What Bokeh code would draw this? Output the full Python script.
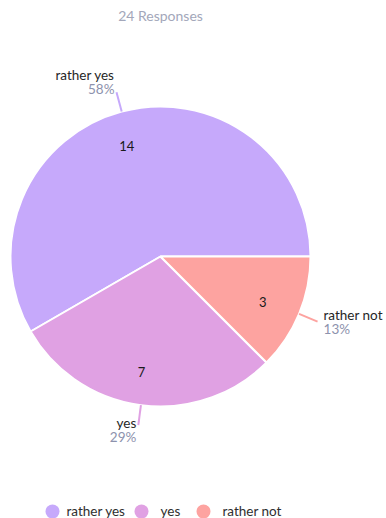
import math
from bokeh.plotting import figure
from bokeh.models import Range1d
from bokeh.core.properties import value
from bokeh.embed import file_html
from bokeh.resources import INLINE

# ---- data ----
categories = ["rather yes", "yes", "rather not"]
counts = [14, 7, 3]
colors = ["#c6a9fb", "#e0a1e3", "#fda3a0"]
title_text = "24 Responses"

# ---- layout ----
W, H = 386, 518
CX, CY = 160, 256          # canvas coords (from top)
R = 150
FONT = "Lato"

p = figure(width=W, height=H, output_backend="svg", toolbar_location=None,
           x_range=Range1d(0, W), y_range=Range1d(0, H), min_border=0)
p.axis.visible = False
p.grid.visible = False
p.outline_line_color = None
p.background_fill_color = "white"
p.border_fill_color = "white"

def Y(cy):
    return H - cy

total = sum(counts)
starts, ends = [], []
acc = 0
for c in counts:
    starts.append(acc / total * 2 * math.pi)
    acc += c
    ends.append(acc / total * 2 * math.pi)

p.wedge(x=[CX] * 3, y=[Y(CY)] * 3, radius=R, start_angle=starts, end_angle=ends,
        direction="anticlock", fill_color=colors, line_color="white", line_width=2)

# title
p.text(x=[160], y=[Y(15)], text=[title_text], text_font=value(FONT),
       text_font_size="14px", text_color="#a3a7ba", text_align="center",
       text_baseline="middle")

for cat, c, col, s, e in zip(categories, counts, colors, starts, ends):
    mid = (s + e) / 2
    ca, sa = math.cos(mid), math.sin(mid)
    # value label inside
    vx, vy = CX + 115 * ca, CY - 115 * sa
    p.text(x=[vx - 4], y=[Y(vy + 1)], text=[str(c)], text_font=value(FONT),
           text_font_size="13px", text_color="#1a1a1a", text_align="center",
           text_baseline="middle")
    # leader line
    x1, y1 = CX + R * ca, CY - R * sa
    x2, y2 = CX + (R + 20) * ca, CY - (R + 20) * sa
    p.line(x=[x1, x2], y=[Y(y1), Y(y2)], line_color=col, line_width=2)
    pct = math.floor(c / total * 100 + 0.5)
    if ca >= 0:
        tx, align = x2 + 6, "left"
    else:
        tx, align = x2 - 2, "right"
    block = y2 - 8 * sa
    p.text(x=[tx], y=[Y(block - 9.5)], text=[cat], text_font=value(FONT),
           text_font_size="13.5px", text_color="#262626", text_align=align,
           text_baseline="middle")
    p.text(x=[tx], y=[Y(block + 4.5)], text=[f"{pct}%"], text_font=value(FONT),
           text_font_size="13.5px", text_color="#8d92ad", text_align=align,
           text_baseline="middle")

# legend
leg_circle_x = [52, 141, 203]
leg_text_x = [66, 160, 222]
leg_y = 511
p.scatter(x=leg_circle_x, y=[Y(leg_y)] * 3, size=14, marker="circle",
          fill_color=colors, line_color=None)
p.text(x=leg_text_x, y=[Y(leg_y - 1)] * 3, text=categories, text_font=value(FONT),
       text_font_size="13.5px", text_color="#2e2e2e", text_align="left",
       text_baseline="middle")

open("out.html", "w").write(file_html(p, INLINE))
